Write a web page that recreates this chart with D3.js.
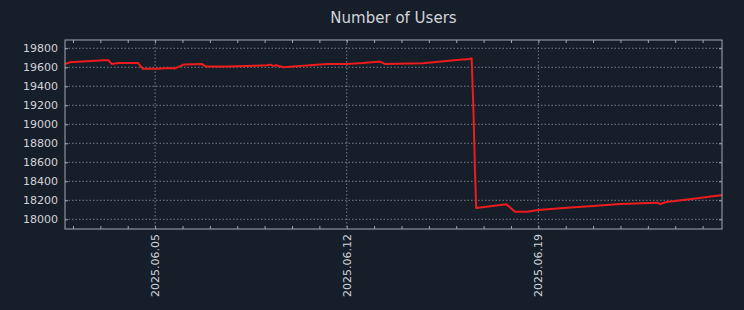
<!DOCTYPE html>
<html>
<head>
<meta charset="utf-8">
<script src="https://cdn.jsdelivr.net/npm/d3@7"></script>
<style>
  body { margin: 0; background: #161e2a; }
  text { font-family: "DejaVu Sans", sans-serif; }
</style>
</head>
<body>
<div id="chart"></div>
<script>
// user counts
const dates = [
  "2025-06-01T17:00", "2025-06-01T21:30", "2025-06-02T12:00", "2025-06-03T03:00",
  "2025-06-03T07:00", "2025-06-03T10:00", "2025-06-03T16:00", "2025-06-04T09:00",
  "2025-06-04T13:00", "2025-06-05T01:30", "2025-06-05T13:00", "2025-06-05T17:30",
  "2025-06-06T01:00", "2025-06-06T17:00", "2025-06-06T20:30", "2025-06-07T15:00",
  "2025-06-09T02:00", "2025-06-09T05:00", "2025-06-09T07:30", "2025-06-09T10:00",
  "2025-06-09T16:30", "2025-06-10T01:00", "2025-06-10T16:00", "2025-06-11T06:30",
  "2025-06-12T00:00", "2025-06-12T14:30", "2025-06-13T05:00", "2025-06-13T09:30",
  "2025-06-14T19:00", "2025-06-15T15:30", "2025-06-16T00:30", "2025-06-16T12:00",
  "2025-06-16T13:30", "2025-06-16T15:00", "2025-06-16T16:30", "2025-06-16T17:30",
  "2025-06-17T20:00", "2025-06-18T03:30", "2025-06-18T14:00", "2025-06-19T00:00",
  "2025-06-19T19:00", "2025-06-21T00:00", "2025-06-21T23:30", "2025-06-23T08:00",
  "2025-06-23T10:40", "2025-06-23T16:30", "2025-06-24T16:00", "2025-06-25T12:30",
  "2025-06-25T17:00"
];
const users = [
  19635, 19653, 19663, 19674,
  19674, 19635, 19645, 19645,
  19585, 19585, 19592, 19588,
  19628, 19635, 19607, 19607,
  19621, 19628, 19614, 19621,
  19600, 19607, 19621, 19635,
  19635, 19645, 19660, 19635,
  19642, 19666, 19677, 19687,
  19695, 19185, 18484, 18119,
  18158, 18080, 18080, 18098,
  18116, 18140, 18161, 18175,
  18161, 18182, 18217, 18249,
  18252
];
const yTicks = [18000, 18200, 18400, 18600, 18800, 19000, 19200, 19400, 19600, 19800];
const xTickDates = ["2025-06-05", "2025-06-12", "2025-06-19"];

const width = 744, height = 310;
const margin = { top: 40, right: 22, bottom: 81, left: 65 };
const innerW = width - margin.left - margin.right;
const innerH = height - margin.top - margin.bottom;

const parse = d3.timeParse("%Y-%m-%dT%H:%M");
const data = dates.map((d, i) => ({ date: parse(d), value: users[i] }));

const bg = "#161e2a", textCol = "#d2d4d8", spineCol = "#a3a7ad", gridCol = "#b4b8be";

const svg = d3.select("#chart")
  .append("svg")
  .attr("width", width)
  .attr("height", height)
  .style("background", bg);

const g = svg.append("g")
  .attr("transform", `translate(${margin.left}, ${margin.top})`);

const x = d3.scaleTime()
  .domain(d3.extent(data, (d) => d.date))
  .range([0, innerW]);
const y = d3.scaleLinear().domain([17898, 19887]).range([innerH, 0]);

const majorX = xTickDates.map((d) => d3.timeParse("%Y-%m-%d")(d));
const minorX = d3.timeDay.range(d3.timeDay.ceil(x.domain()[0]), x.domain()[1]);

//grid lines
g.append("g").selectAll("line").data(yTicks).join("line")
  .attr("x1", 0).attr("x2", innerW)
  .attr("y1", (d) => y(d)).attr("y2", (d) => y(d))
  .attr("stroke", gridCol).attr("stroke-width", 0.8)
  .attr("stroke-dasharray", "1.5,2").attr("opacity", 0.8);
g.append("g").selectAll("line").data(majorX).join("line")
  .attr("x1", (d) => x(d)).attr("x2", (d) => x(d))
  .attr("y1", 0).attr("y2", innerH)
  .attr("stroke", gridCol).attr("stroke-width", 0.8)
  .attr("stroke-dasharray", "1.5,2").attr("opacity", 0.8);

//line
const lineFunc = d3.line()
  .x((d) => x(d.date))
  .y((d) => y(d.value));
g.append("path")
  .datum(data)
  .attr("d", lineFunc)
  .attr("fill", "none")
  .attr("stroke", "#ee1c1c")
  .attr("stroke-width", 2)
  .attr("stroke-linejoin", "round");

//axes with inward ticks
const styleAxis = (sel) => {
  sel.select(".domain").remove();
  sel.selectAll(".tick line").attr("stroke", spineCol);
  sel.selectAll(".tick text").attr("fill", textCol).style("font-size", "11px");
};

const yAxis = g.append("g")
  .call(d3.axisLeft(y).tickValues(yTicks).tickSize(-3).tickPadding(7).tickFormat(d3.format("d")));
styleAxis(yAxis);
const yAxisR = g.append("g").attr("transform", `translate(${innerW},0)`)
  .call(d3.axisRight(y).tickValues(yTicks).tickSize(-3).tickFormat(""));
styleAxis(yAxisR);

const xTop = g.append("g")
  .call(d3.axisTop(x).tickValues(minorX).tickSize(-3).tickFormat(""));
styleAxis(xTop);

const xAxis = g.append("g").attr("transform", `translate(0,${innerH})`)
  .call(d3.axisBottom(x).tickValues(minorX).tickSize(-3).tickFormat(""));
styleAxis(xAxis);

//date labels, rotated
g.append("g").selectAll("text").data(majorX).join("text")
  .attr("transform", (d) => `translate(${x(d) + 4}, ${innerH + 5}) rotate(-90)`)
  .attr("text-anchor", "end")
  .attr("fill", textCol)
  .style("font-size", "11px")
  .text(d3.timeFormat("%Y.%m.%d"));

//frame
g.append("rect")
  .attr("width", innerW).attr("height", innerH)
  .attr("fill", "none").attr("stroke", spineCol).attr("stroke-width", 1);

//title
svg.append("text")
  .attr("x", margin.left + innerW / 2)
  .attr("y", 23)
  .attr("text-anchor", "middle")
  .attr("fill", textCol)
  .style("font-size", "15px")
  .text("Number of Users");
</script>
</body>
</html>
